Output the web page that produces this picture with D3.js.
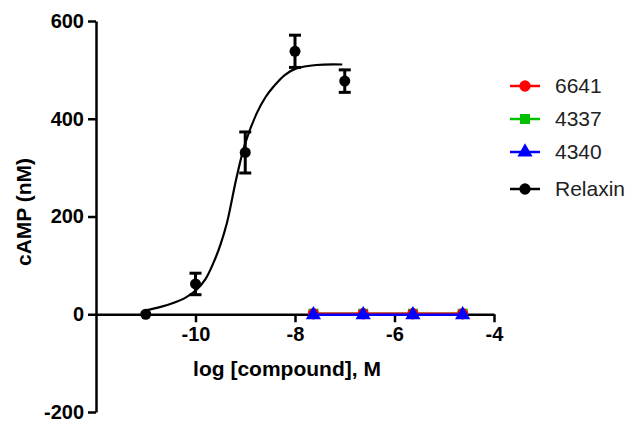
<!DOCTYPE html>
<html>
<head>
<meta charset="utf-8">
<script src="https://cdn.jsdelivr.net/npm/d3@7"></script>
<style>
  body { margin: 0; background: #fff; }
  text { font-family: Arial, "Liberation Sans", sans-serif; }
</style>
</head>
<body>
<div id="chart"></div>
<script>
// relaxin points (log M, mean, sem)
var relaxX   = [-11, -10, -9, -8, -7];
var relaxY   = [0, 62, 331, 538, 477];
var relaxErr = [3, 22, 42, 33, 23];

// fitted curve
var fitX = [-11, -10.7, -10.45, -10.2, -9.98, -9.8, -9.64, -9.5, -9.37, -9.17, -9.0, -8.77, -8.6, -8.43, -8.2, -7.97, -7.57, -7.05];
var fitY = [8, 15, 23, 34, 50, 72, 105, 142, 186, 282, 350, 411, 443, 466, 490, 503, 510, 511];

// other compounds
var compX = [-7.63, -6.63, -5.63, -4.63];
var c6641 = [1, 1, 1, 1];
var c4337 = [1, 1, 1, 1];
var c4340 = [-1, -1, -1, -1];

var legendNames = ["6641", "4337", "4340", "Relaxin"];
var legendColors = ["#ff0000", "#00c000", "#0000ff", "#000000"];

var xTicks = [-10, -8, -6, -4];
var yTicks = [-200, 0, 200, 400, 600];

var W = 627, H = 421;
var svg = d3.select("#chart").append("svg")
  .attr("width", W)
  .attr("height", H);

var x = d3.scaleLinear().domain([-12, -4]).range([96, 494]);
var y = d3.scaleLinear().domain([-200, 600]).range([412, 21]);

var fmt = function(d) { return String(d); };

// y axis
var yAxis = svg.append("g")
  .attr("transform", "translate(96,0)")
  .call(d3.axisLeft(y).tickValues(yTicks).tickFormat(fmt).tickSize(8).tickPadding(4).tickSizeOuter(0));
yAxis.select(".domain").attr("stroke-width", 2.5);
yAxis.selectAll(".tick line").attr("stroke-width", 2.5);
yAxis.selectAll(".tick text")
  .style("font-size", "20px")
  .style("font-weight", "bold")
  .attr("fill", "#000");

// x axis at y = 0
var xAxis = svg.append("g")
  .attr("transform", "translate(0," + y(0) + ")")
  .call(d3.axisBottom(x).tickValues(xTicks).tickFormat(fmt).tickSize(8).tickPadding(5).tickSizeOuter(0));
xAxis.select(".domain").attr("stroke-width", 2.5);
xAxis.selectAll(".tick line").attr("stroke-width", 2.5);
xAxis.selectAll(".tick text")
  .style("font-size", "20px")
  .style("font-weight", "bold")
  .attr("fill", "#000");

// axis titles
svg.append("text")
  .attr("transform", "translate(31,212) rotate(-90)")
  .attr("text-anchor", "middle")
  .style("font-size", "21px")
  .style("font-weight", "bold")
  .text("cAMP (nM)");

svg.append("text")
  .attr("x", 287)
  .attr("y", 376)
  .attr("text-anchor", "middle")
  .style("font-size", "21px")
  .style("font-weight", "bold")
  .text("log [compound], M");

// compound lines + markers (green first, blue on top)
var comps = [
  { vals: c4337, color: legendColors[1], shape: d3.symbolSquare },
  { vals: c6641, color: legendColors[0], shape: d3.symbolCircle },
  { vals: c4340, color: legendColors[2], shape: d3.symbolTriangle }
];
var compLine = d3.line()
  .x(function(d) { return x(d[0]); })
  .y(function(d) { return y(d[1]); });

comps.forEach(function(c) {
  var pts = compX.map(function(v, i) { return [v, c.vals[i]]; });
  svg.append("path")
    .attr("d", compLine(pts))
    .attr("fill", "none")
    .attr("stroke", c.color)
    .attr("stroke-width", 2.5);
  svg.selectAll(null)
    .data(pts)
    .enter().append("path")
    .attr("d", d3.symbol().type(c.shape).size(100))
    .attr("transform", function(d) { return "translate(" + x(d[0]) + "," + y(d[1]) + ")"; })
    .attr("fill", c.color);
});

// relaxin fit curve
var fitPts = fitX.map(function(v, i) { return [v, fitY[i]]; });
svg.append("path")
  .attr("d", d3.line().curve(d3.curveCatmullRom)
    .x(function(d) { return x(d[0]); })
    .y(function(d) { return y(d[1]); })(fitPts))
  .attr("fill", "none")
  .attr("stroke", "#000")
  .attr("stroke-width", 2.2);

// error bars
var relax = relaxX.map(function(v, i) { return { x: v, y: relaxY[i], e: relaxErr[i] }; });
var eb = svg.selectAll(".eb").data(relax.filter(function(d) { return d.e > 5; }))
  .enter().append("g").attr("class", "eb")
  .attr("stroke", "#000").attr("stroke-width", 3);
eb.append("line")
  .attr("x1", function(d) { return x(d.x); })
  .attr("x2", function(d) { return x(d.x); })
  .attr("y1", function(d) { return y(d.y + d.e); })
  .attr("y2", function(d) { return y(d.y - d.e); });
eb.append("line")
  .attr("x1", function(d) { return x(d.x) - 6; })
  .attr("x2", function(d) { return x(d.x) + 6; })
  .attr("y1", function(d) { return y(d.y + d.e); })
  .attr("y2", function(d) { return y(d.y + d.e); });
eb.append("line")
  .attr("x1", function(d) { return x(d.x) - 6; })
  .attr("x2", function(d) { return x(d.x) + 6; })
  .attr("y1", function(d) { return y(d.y - d.e); })
  .attr("y2", function(d) { return y(d.y - d.e); });

svg.selectAll(".rp").data(relax)
  .enter().append("circle")
  .attr("class", "rp")
  .attr("cx", function(d) { return x(d.x); })
  .attr("cy", function(d) { return y(d.y); })
  .attr("r", 5.5)
  .attr("fill", "#000");

// legend
var legendY = [86, 119, 152, 189];
var shapes = [d3.symbolCircle, d3.symbolSquare, d3.symbolTriangle, d3.symbolCircle];
var lg = svg.selectAll(".lg").data(legendNames)
  .enter().append("g").attr("class", "lg")
  .attr("transform", function(d, i) { return "translate(510," + legendY[i] + ")"; });
lg.append("line")
  .attr("x1", 0).attr("x2", 30)
  .attr("stroke", function(d, i) { return legendColors[i]; })
  .attr("stroke-width", 2.5);
lg.append("path")
  .attr("transform", "translate(15,0)")
  .attr("d", function(d, i) { return d3.symbol().type(shapes[i]).size(100)(); })
  .attr("fill", function(d, i) { return legendColors[i]; });
lg.append("text")
  .attr("x", 45)
  .attr("dy", "0.35em")
  .style("font-size", "21px")
  .attr("fill", "#222")
  .text(function(d) { return d; });
</script>
</body>
</html>
